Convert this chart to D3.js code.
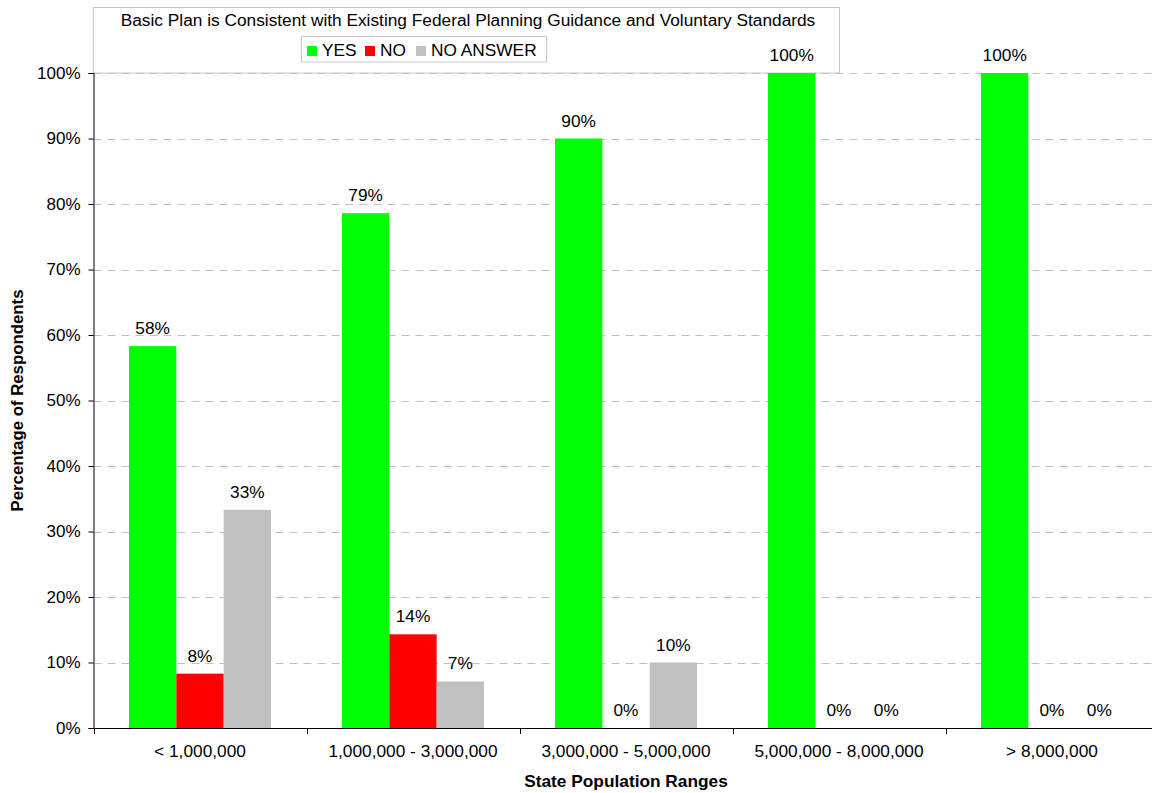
<!DOCTYPE html>
<html><head><meta charset="utf-8">
<script src="https://cdn.jsdelivr.net/npm/d3@7"></script>
<style>
html,body{margin:0;padding:0;background:#fff;overflow:hidden}
svg{display:block;font-family:"Liberation Sans",Arial,sans-serif}
</style></head><body>
<script>
const categories = ["< 1,000,000","1,000,000 - 3,000,000","3,000,000 - 5,000,000","5,000,000 - 8,000,000","> 8,000,000"];
const seriesNames = ["YES","NO","NO ANSWER"];
const seriesColors = ["#00ff00","#ff0000","#c0c0c0"];
const yesValues = [58.3, 78.6, 90, 100, 100];
const noValues = [8.3, 14.3, 0, 0, 0];
const noAnswerValues = [33.3, 7.1, 10, 0, 0];
const yTicks = [0,10,20,30,40,50,60,70,80,90,100];
const title = "Basic Plan is Consistent with Existing Federal Planning Guidance and Voluntary Standards";
const seriesValues = [yesValues, noValues, noAnswerValues];

const W = 1152, H = 793;
const m = {left: 93.5, right: 1158.5, top: 73, bottom: 728};
const FS = 17.3;
const svg = d3.select("body").append("svg").attr("width", W).attr("height", H);

const x0 = d3.scaleBand().domain(categories).range([m.left, m.right]).paddingInner(0).paddingOuter(0);
const x1 = d3.scaleBand().domain(seriesNames).range([0, x0.bandwidth()]).paddingInner(0).paddingOuter(0.75);
const y = d3.scaleLinear().domain([0, 100]).range([m.bottom, m.top]);

// title / legend box (drawn beneath plot content)
svg.append("rect").attr("x", 93.5).attr("y", 7.5).attr("width", 746).attr("height", 65.5)
  .attr("fill", "#fff").attr("stroke", "#c8c8c8");
svg.append("text").attr("x", 468).attr("y", 26).attr("text-anchor", "middle")
  .attr("font-size", FS).attr("fill", "#000").text(title);
const lg = svg.append("g");
lg.append("rect").attr("x", 301.5).attr("y", 36.5).attr("width", 245).attr("height", 25.5)
  .attr("fill", "#fff").attr("stroke", "#c8c8c8");
const legendX = [307, 365, 416];
seriesNames.forEach((s, i) => {
  lg.append("rect").attr("x", legendX[i]).attr("y", 46).attr("width", 10).attr("height", 10).attr("fill", seriesColors[i]);
  lg.append("text").attr("x", legendX[i] + 15).attr("y", 56).attr("font-size", FS).attr("fill", "#000").text(s);
});

// gridlines
svg.append("g").selectAll("line").data(yTicks.filter(t => t > 0)).join("line")
  .attr("x1", m.left).attr("x2", m.right)
  .attr("y1", d => Math.round(y(d)) + 0.5).attr("y2", d => Math.round(y(d)) + 0.5)
  .attr("stroke", "#c0c0c0").attr("stroke-width", 1).attr("stroke-dasharray", "8,6");

// bars
const groups = svg.append("g").selectAll("g").data(categories).join("g")
  .attr("transform", c => `translate(${x0(c)},0)`);
groups.each(function(c, ci) {
  const g = d3.select(this);
  seriesNames.forEach((s, si) => {
    const v = seriesValues[si][ci];
    g.append("rect").attr("x", x1(s)).attr("width", x1.bandwidth())
      .attr("y", y(v)).attr("height", y(0) - y(v)).attr("fill", seriesColors[si]);
    g.append("text").attr("x", x1(s) + x1.bandwidth()/2).attr("y", y(v) - 12)
      .attr("text-anchor", "middle").attr("font-size", FS).attr("fill", "#000")
      .text(Math.round(v) + "%");
  });
});

// y axis
const yAxis = d3.axisLeft(y).tickValues(yTicks).tickFormat(d => d + "%").tickSize(5).tickPadding(8);
const yg = svg.append("g").attr("transform", `translate(${m.left},0)`).call(yAxis);
yg.select(".domain").attr("stroke", "#000");
yg.selectAll(".tick line").attr("stroke", "#000");
yg.selectAll("text").attr("font-size", 17).attr("font-family", "Liberation Sans, Arial, sans-serif").attr("fill", "#000");

// x axis
const xg = svg.append("g").attr("transform", `translate(0,${m.bottom})`);
xg.append("line").attr("x1", m.left).attr("x2", m.right).attr("y1", 0.5).attr("y2", 0.5).attr("stroke", "#000");
const bounds = categories.map(c => x0(c)).concat([m.right]);
xg.selectAll("line.t").data(bounds).join("line").attr("class", "t")
  .attr("x1", d => Math.round(d) + 0.5).attr("x2", d => Math.round(d) + 0.5).attr("y1", 0).attr("y2", 6).attr("stroke", "#000");
xg.selectAll("text").data(categories).join("text")
  .attr("x", c => x0(c) + x0.bandwidth()/2).attr("y", 29)
  .attr("text-anchor", "middle").attr("font-size", FS).attr("fill", "#000").text(c => c);

// axis titles
svg.append("text").attr("x", (m.left + m.right)/2).attr("y", 787).attr("text-anchor", "middle")
  .attr("font-size", FS).attr("font-weight", "bold").text("State Population Ranges");
svg.append("text").attr("transform", `translate(23,${(m.top + m.bottom)/2}) rotate(-90)`)
  .attr("text-anchor", "middle").attr("font-size", 16.8).attr("font-weight", "bold").text("Percentage of Respondents");
</script>
</body></html>
